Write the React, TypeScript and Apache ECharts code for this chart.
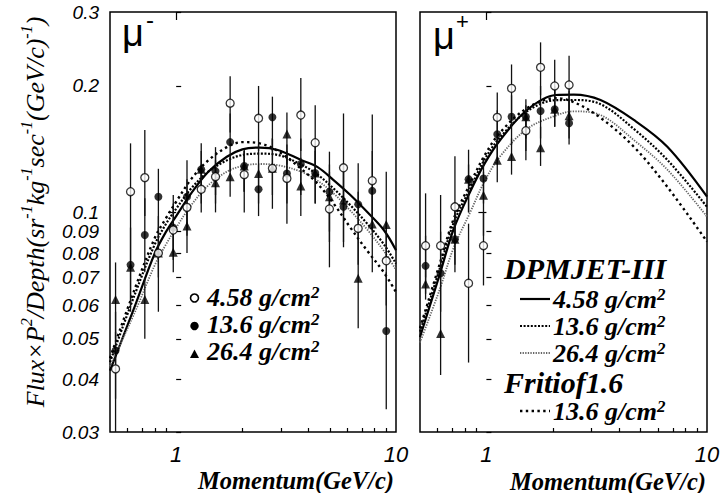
import React, { useEffect, useRef } from 'react';
import * as echarts from 'echarts';

// ---- momentum bins (GeV/c) ----
const P = [0.53, 0.62, 0.72, 0.83, 0.97, 1.12, 1.3, 1.51, 1.76, 2.04, 2.37, 2.74, 3.19, 3.69, 4.29, 4.98, 5.77, 6.73, 7.8, 9.03];
const PP = P.slice(0, 11);

// ---- mu- data ----
const mmOpen = [0.0424, 0.112, 0.121, 0.080, 0.0908, 0.1028, 0.1135, 0.1216, 0.182, 0.123, 0.1675, 0.1273, 0.1205, 0.1705, 0.1465, 0.1019, 0.1277, 0.0916, 0.119, 0.0767];
const mmOpenLo = [0.030, 0.090, 0.098, 0.058, 0.077, 0.088, 0.100, 0.105, 0.155, 0.100, 0.140, 0.102, 0.094, 0.140, 0.120, 0.074, 0.100, 0.075, 0.095, 0.060];
const mmOpenHi = [0.052, 0.146, 0.157, 0.098, 0.105, 0.120, 0.130, 0.138, 0.211, 0.140, 0.200, 0.150, 0.140, 0.209, 0.180, 0.125, 0.172, 0.112, 0.171, 0.095];
const mmFill = [0.0469, 0.075, 0.0883, 0.109, 0.092, 0.109, 0.1266, 0.1254, 0.147, 0.129, 0.1135, 0.1684, 0.1238, 0.1304, 0.1241, 0.112, 0.1031, 0.1045, 0.1125, 0.0522];
const mmFillLo = [0.036, 0.060, 0.072, 0.090, 0.080, 0.092, 0.110, 0.110, 0.125, 0.112, 0.098, 0.140, 0.105, 0.110, 0.105, 0.090, 0.0826, 0.085, 0.090, 0.034];
const mmFillHi = [0.058, 0.092, 0.108, 0.127, 0.110, 0.133, 0.146, 0.143, 0.172, 0.141, 0.130, 0.1886, 0.145, 0.150, 0.145, 0.1395, 0.125, 0.131, 0.140, 0.072];
const mmTri = [0.062, 0.074, 0.062, 0.080, 0.0804, 0.0928, 0.1266, 0.1177, 0.1216, 0.129, 0.1238, 0.1273, 0.1537, 0.1155, 0.1241, 0.109, 0.107, 0.0697, 0.0938, 0.0936];
const mmTriLo = [0.050, 0.058, 0.050, 0.070, 0.072, 0.080, 0.105, 0.100, 0.109, 0.112, 0.105, 0.110, 0.130, 0.098, 0.105, 0.085, 0.085, 0.053, 0.072, 0.075];
const mmTriHi = [0.076, 0.090, 0.070, 0.092, 0.090, 0.105, 0.140, 0.133, 0.136, 0.140, 0.145, 0.150, 0.173, 0.135, 0.140, 0.130, 0.130, 0.085, 0.115, 0.125];

// ---- mu+ data ----
const mpOpen = [0.0833, 0.0833, 0.1031, 0.0678, 0.0833, 0.1684, 0.1974, 0.1565, 0.2215, 0.200, 0.2011];
const mpOpenLo = [0.070, 0.065, 0.085, 0.0439, 0.067, 0.145, 0.170, 0.133, 0.190, 0.170, 0.175];
const mpOpenHi = [0.111, 0.110, 0.136, 0.094, 0.100, 0.193, 0.225, 0.175, 0.254, 0.231, 0.236];
const mpFill = [0.0746, 0.0716, 0.0863, 0.120, 0.1204, 0.1535, 0.169, 0.169, 0.1743, 0.176, 0.163];
const mpFillLo = [0.064, 0.058, 0.072, 0.100, 0.105, 0.130, 0.145, 0.150, 0.150, 0.160, 0.145];
const mpFillHi = [0.088, 0.090, 0.100, 0.141, 0.135, 0.175, 0.190, 0.186, 0.200, 0.200, 0.185];
const mpTri = [0.0675, 0.0515, 0.0863, 0.120, 0.1098, 0.133, 0.1359, 0.169, 0.1426, 0.176, 0.1699];
const mpTriLo = [0.062, 0.041, 0.075, 0.100, 0.088, 0.118, 0.123, 0.140, 0.129, 0.160, 0.150];
const mpTriHi = [0.075, 0.065, 0.105, 0.130, 0.125, 0.150, 0.150, 0.180, 0.160, 0.195, 0.195];

// ---- model curves, mu- ----
const CPL = [0.5, 0.65, 0.8, 0.9, 1.0, 1.17, 1.4, 1.7, 2.0, 2.4, 2.9, 3.7, 4.4, 5.2, 6.2, 7.4, 8.8, 10];
const mmDpm458 = [0.042, 0.060, 0.080, 0.090, 0.098, 0.111, 0.125, 0.1357, 0.1413, 0.1427, 0.1408, 0.1333, 0.1282, 0.1194, 0.110, 0.1002, 0.0908, 0.0813];
const mmDpm136 = [0.044, 0.064, 0.084, 0.094, 0.102, 0.114, 0.125, 0.133, 0.137, 0.138, 0.137, 0.130, 0.123, 0.114, 0.104, 0.094, 0.084, 0.0755];
const mmDpm264 = [0.043, 0.058, 0.075, 0.084, 0.092, 0.104, 0.116, 0.125, 0.129, 0.1304, 0.1295, 0.125, 0.119, 0.111, 0.101, 0.091, 0.081, 0.073];
const mmFri136 = [0.045, 0.066, 0.087, 0.097, 0.106, 0.120, 0.133, 0.143, 0.147, 0.146, 0.140, 0.127, 0.117, 0.105, 0.092, 0.081, 0.072, 0.0646];

// ---- model curves, mu+ ----
const CPR = [0.5, 0.617, 0.708, 0.844, 0.984, 1.155, 1.527, 2.06, 2.49, 3.29, 4.66, 6.61, 10];
const mpDpm458 = [0.0505, 0.0717, 0.0908, 0.112, 0.131, 0.1487, 0.1753, 0.1903, 0.1908, 0.1852, 0.166, 0.1433, 0.109];
const mpDpm136 = [0.052, 0.074, 0.094, 0.114, 0.134, 0.151, 0.174, 0.185, 0.1852, 0.181, 0.158, 0.1333, 0.1031];
const mpDpm264 = [0.049, 0.066, 0.082, 0.100, 0.119, 0.136, 0.158, 0.170, 0.174, 0.1705, 0.1487, 0.1264, 0.0977];
const mpFri136 = [0.053, 0.076, 0.096, 0.117, 0.137, 0.155, 0.177, 0.187, 0.183, 0.168, 0.1433, 0.115, 0.0852];

// ---- ticks ----
const X_MINOR = [0.6, 0.7, 0.8, 0.9, 2, 3, 4, 5, 6, 7, 8, 9];
const X_MAJOR = [1];
const X_LABELS = [1, 10];
const Y_MINOR = [0.03, 0.04, 0.05, 0.06, 0.07, 0.08, 0.09, 0.2, 0.3];
const Y_MAJOR = [0.1];
const Y_LABELS = [0.03, 0.04, 0.05, 0.06, 0.07, 0.08, 0.09, 0.1, 0.2, 0.3];

const SERIF = '"Liberation Serif", "Times New Roman", serif';
const SANS = '"Liberation Sans", Arial, sans-serif';

const lg = (v: number) => Math.log10(v);
const fmt = (v: number) => String(Number(Math.pow(10, v).toPrecision(2)));

function xAxes(gi: number) {
  const base = { gridIndex: gi, type: 'value', min: lg(0.5), max: 1, axisLine: { show: false }, splitLine: { show: false } };
  return [
    {
      ...base,
      axisTick: { show: true, inside: true, length: 4, customValues: X_MINOR.map(lg), lineStyle: { color: '#000', width: 1.2 } },
      axisLabel: { customValues: X_LABELS.map(lg), formatter: fmt, color: '#000', fontFamily: SANS, fontStyle: 'italic', fontSize: 22, margin: 12, lineHeight: 20 },
    },
    {
      ...base,
      axisTick: { show: true, inside: true, length: 8, customValues: X_MAJOR.map(lg), lineStyle: { color: '#000', width: 1.2 } },
      axisLabel: { show: false },
    },
  ];
}

function yAxes(gi: number, labels: boolean) {
  const base = { gridIndex: gi, type: 'value', min: lg(0.03), max: lg(0.3), axisLine: { show: false }, splitLine: { show: false } };
  return [
    {
      ...base,
      axisTick: { show: true, inside: true, length: 5, customValues: Y_MINOR.map(lg), lineStyle: { color: '#000', width: 1.2 } },
      axisLabel: labels
        ? { customValues: Y_LABELS.map(lg), formatter: fmt, color: '#000', fontFamily: SANS, fontStyle: 'italic', fontSize: 19, margin: 11, lineHeight: 19 }
        : { show: false },
    },
    {
      ...base,
      axisTick: { show: true, inside: true, length: 8, customValues: Y_MAJOR.map(lg), lineStyle: { color: '#000', width: 1.2 } },
      axisLabel: { show: false },
    },
  ];
}

function errSeries(ai: number, p: number[], lo: number[], hi: number[]) {
  return {
    type: 'custom', xAxisIndex: ai, yAxisIndex: ai, clip: true, z: 3, silent: true,
    data: p.map((v, k) => [lg(v), lg(lo[k]), lg(hi[k])]),
    encode: { x: 0, y: [1, 2] },
    renderItem: (_params: any, api: any) => {
      const a = api.coord([api.value(0), api.value(1)]);
      const b = api.coord([api.value(0), api.value(2)]);
      return { type: 'line', shape: { x1: a[0], y1: a[1], x2: b[0], y2: b[1] }, style: { stroke: '#111', lineWidth: 1.3 } };
    },
  };
}

function ptSeries(ai: number, p: number[], vals: number[], kind: string) {
  const style =
    kind === 'open'
      ? { symbol: 'circle', symbolSize: 8, itemStyle: { color: '#fff', borderColor: '#000', borderWidth: 1.3 }, z: 6 }
      : kind === 'fill'
      ? { symbol: 'circle', symbolSize: 8, itemStyle: { color: '#000' }, z: 5 }
      : { symbol: 'triangle', symbolSize: 9, itemStyle: { color: '#000' }, z: 4 };
  return { type: 'scatter', xAxisIndex: ai, yAxisIndex: ai, silent: true, data: p.map((v, k) => [lg(v), lg(vals[k])]), ...style };
}

const LS_SOLID = { color: '#000', width: 2.2, type: 'solid' };
const LS_DENSE = { color: '#000', width: 2.2, type: [2, 1.6] };
const LS_GRAY = { color: '#666', width: 1.8, type: [1.3, 1.3] };
const LS_FRI = { color: '#000', width: 2.4, type: [2.4, 3.4] };

function curve(ai: number, p: number[], vals: number[], ls: any) {
  return {
    type: 'line', xAxisIndex: ai, yAxisIndex: ai, silent: true, showSymbol: false, symbol: 'none', smooth: 0.35, z: 2,
    data: p.map((v, k) => [lg(v), lg(vals[k])]), lineStyle: ls,
  };
}

const legRich = {
  a: { fontFamily: SERIF, fontSize: 26, fontWeight: 'bold', fontStyle: 'italic', fill: '#000', lineHeight: 26, verticalAlign: 'bottom' },
  s: { fontFamily: SERIF, fontSize: 17, fontWeight: 'bold', fontStyle: 'italic', fill: '#000', lineHeight: 16, verticalAlign: 'top' },
};
const gcm = (v: string) => `{a|${v} g/cm}{s|2}`;
function legText(x: number, y: number, v: string) {
  return { type: 'text', x, y, style: { text: gcm(v), rich: legRich, align: 'left', verticalAlign: 'middle' } };
}
function heading(x: number, y: number, t: string) {
  return { type: 'text', x, y, style: { text: t, fontFamily: SERIF, fontSize: 30, fontWeight: 'bold', fontStyle: 'italic', fill: '#000', align: 'left', verticalAlign: 'middle', lineHeight: 28 } };
}
function legLine(y: number, ls: any) {
  return {
    type: 'line', shape: { x1: 520, y1: y, x2: 550, y2: y },
    style: { stroke: ls.color, lineWidth: ls.width, lineDash: Array.isArray(ls.type) ? ls.type : null },
  };
}

const yRich = {
  a: { fontFamily: SERIF, fontSize: 26, fontStyle: 'italic', fill: '#000', lineHeight: 30, verticalAlign: 'bottom' },
  s: { fontFamily: SERIF, fontSize: 16, fontStyle: 'italic', fill: '#000', lineHeight: 16, verticalAlign: 'top' },
};

const titleStyle = { text: 'Momentum(GeV/c)', fontFamily: SERIF, fontSize: 24.5, fontWeight: 'bold', fontStyle: 'italic', fill: '#000', align: 'right', verticalAlign: 'middle', lineHeight: 22 };

export default function App() {
  const ref = useRef<HTMLDivElement>(null);
  useEffect(() => {
    if (!ref.current) return;
    const chart = echarts.init(ref.current, null, { renderer: 'svg' });
    const option: any = {
      animation: false,
      backgroundColor: '#fff',
      grid: [
        { left: 110, top: 12, width: 286, height: 420, show: true, borderColor: '#000', borderWidth: 1.5, backgroundColor: 'transparent' },
        { left: 420, top: 12, width: 287, height: 420, show: true, borderColor: '#000', borderWidth: 1.5, backgroundColor: 'transparent' },
      ],
      xAxis: [...xAxes(0), ...xAxes(1)],
      yAxis: [...yAxes(0, true), ...yAxes(1, false)],
      series: [
        curve(0, CPL, mmDpm458, LS_SOLID),
        curve(0, CPL, mmDpm136, LS_DENSE),
        curve(0, CPL, mmDpm264, LS_GRAY),
        curve(0, CPL, mmFri136, LS_FRI),
        errSeries(0, P, mmTriLo, mmTriHi),
        errSeries(0, P, mmFillLo, mmFillHi),
        errSeries(0, P, mmOpenLo, mmOpenHi),
        ptSeries(0, P, mmTri, 'tri'),
        ptSeries(0, P, mmFill, 'fill'),
        ptSeries(0, P, mmOpen, 'open'),
        curve(2, CPR, mpDpm458, LS_SOLID),
        curve(2, CPR, mpDpm136, LS_DENSE),
        curve(2, CPR, mpDpm264, LS_GRAY),
        curve(2, CPR, mpFri136, LS_FRI),
        errSeries(2, PP, mpTriLo, mpTriHi),
        errSeries(2, PP, mpFillLo, mpFillHi),
        errSeries(2, PP, mpOpenLo, mpOpenHi),
        ptSeries(2, PP, mpTri, 'tri'),
        ptSeries(2, PP, mpFill, 'fill'),
        ptSeries(2, PP, mpOpen, 'open'),
      ],
      graphic: [
        {
          type: 'text', x: 33, y: 212, rotation: Math.PI / 2,
          style: {
            text: '{a|Flux×P}{s|2}{a|/Depth(sr}{s|-1}{a|kg}{s|-1}{a|sec}{s|-1}{a|(GeV/c)}{s|-1}{a|)}',
            rich: yRich, align: 'center', verticalAlign: 'middle',
          },
        },
        { type: 'text', x: 122, y: 33, style: { text: 'μ', fontFamily: SANS, fontSize: 38, fill: '#000', align: 'left', verticalAlign: 'middle' } },
        { type: 'text', x: 146, y: 19, style: { text: '-', fontFamily: SANS, fontSize: 24, fill: '#000', align: 'left', verticalAlign: 'middle' } },
        { type: 'text', x: 433, y: 36, style: { text: 'μ', fontFamily: SANS, fontSize: 38, fill: '#000', align: 'left', verticalAlign: 'middle' } },
        { type: 'text', x: 456, y: 21, style: { text: '+', fontFamily: SANS, fontSize: 22, fill: '#000', align: 'left', verticalAlign: 'middle' } },
        { type: 'text', x: 394, y: 480, style: { ...titleStyle } },
        { type: 'text', x: 706, y: 481, style: { ...titleStyle } },
        // left legend
        { type: 'circle', shape: { cx: 194.5, cy: 298, r: 4 }, style: { fill: '#fff', stroke: '#000', lineWidth: 1.6 } },
        { type: 'circle', shape: { cx: 194.5, cy: 326, r: 4.2 }, style: { fill: '#000' } },
        { type: 'polygon', shape: { points: [[194.5, 349.5], [199, 358], [190, 358]] }, style: { fill: '#000' } },
        legText(207, 297, '4.58'),
        legText(207, 324, '13.6'),
        legText(207, 351, '26.4'),
        // right legend
        heading(504, 268, 'DPMJET-III'),
        legLine(299, LS_SOLID),
        legText(553, 299, '4.58'),
        legLine(326, LS_DENSE),
        legText(553, 326, '13.6'),
        legLine(353, LS_GRAY),
        legText(553, 353, '26.4'),
        heading(504, 382, 'Fritiof1.6'),
        legLine(411, LS_FRI),
        legText(553, 411, '13.6'),
      ],
    };
    chart.setOption(option);
    return () => chart.dispose();
  }, []);
  return <div ref={ref} style={{ position: 'fixed', left: 0, top: 0, width: 725, height: 493, background: '#fff' }} />;
}
